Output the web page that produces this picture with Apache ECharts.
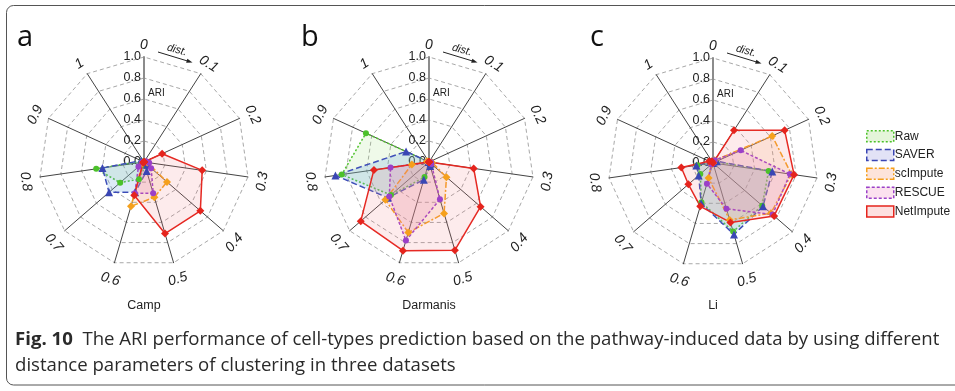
<!DOCTYPE html>
<html><head><meta charset="utf-8">
<script src="https://cdn.jsdelivr.net/npm/echarts@6/dist/echarts.min.js"></script>
<style>html,body{margin:0;padding:0;background:#fff}#c{width:955px;height:391px}</style>
</head><body><div id="c"></div>
<script>
// ---- data ----
const distLabels = ['0','0.1','0.2','0.3','0.4','0.5','0.6','0.7','0.8','0.9','1'];
const methods = ['Raw','SAVER','scImpute','RESCUE','NetImpute'];
const datasets = ['Camp','Darmanis','Li'];
const panelLetters = ['a','b','c'];

// ARI values for dist = 0, 0.1, ..., 1
const campRaw       = [0, 0, 0, 0, 0.02, 0.04, 0.17, 0.30, 0.46, 0.02, 0];
const campSAVER     = [0, 0, 0, 0.02, 0.04, 0.09, 0.30, 0.44, 0.40, 0.03, 0];
const campScImpute  = [0, 0, 0, 0.03, 0.29, 0.35, 0.44, 0.02, 0, 0, 0];
const campRESCUE    = [0, 0, 0.02, 0.05, 0.09, 0.31, 0.31, 0.07, 0.02, 0, 0];
const campNetImpute = [0, 0, 0.19, 0.56, 0.71, 0.71, 0.33, 0.01, 0, 0, 0];

const darRaw       = [0, 0, 0, 0, 0.02, 0.05, 0.15, 0.48, 0.84, 0.66, 0];
const darSAVER     = [0, 0, 0, 0, 0.02, 0.04, 0.175, 0.52, 0.90, 0.24, 0];
const darScImpute  = [0, 0, 0, 0.03, 0.22, 0.51, 0.70, 0.55, 0.165, 0.02, 0];
const darRESCUE    = [0, 0, 0, 0.02, 0.03, 0.37, 0.78, 0.50, 0.37, 0, 0];
const darNetImpute = [0, 0, 0, 0.43, 0.65, 0.875, 0.88, 0.86, 0.53, 0, 0];

const liRaw       = [0, 0.01, 0.03, 0.535, 0.62, 0.68, 0.39, 0.16, 0.15, 0.02, 0];
const liSAVER     = [0, 0.02, 0.04, 0.57, 0.63, 0.71, 0.40, 0.18, 0.16, 0.03, 0.01];
const liScImpute  = [0, 0.03, 0.62, 0.755, 0.73, 0.565, 0.15, 0.02, 0, 0, 0];
const liRESCUE    = [0, 0.03, 0.29, 0.74, 0.75, 0.455, 0.205, 0.02, 0, 0, 0];
const liNetImpute = [0, 0.37, 0.75, 0.78, 0.77, 0.59, 0.43, 0.31, 0.305, 0.04, 0.02];

const tables = [
  [campRaw, campSAVER, campScImpute, campRESCUE, campNetImpute],
  [darRaw, darSAVER, darScImpute, darRESCUE, darNetImpute],
  [liRaw, liSAVER, liScImpute, liRESCUE, liNetImpute]
];

// ---- styles ----
const styles = {
  Raw:       {line:'#4cc12a', type:[2,2],       symbol:'circle',   size:6, area:'rgba(150,220,110,0.22)', legendFill:'#e4f5d9'},
  SAVER:     {line:'#3a46b4', type:[6,3],       symbol:'triangle', size:8, area:'rgba(110,165,225,0.33)', legendFill:'#e2e2f6'},
  scImpute:  {line:'#f5a01c', type:[6,2,2,2],   symbol:'diamond',  size:8, area:'rgba(250,175,100,0.22)', legendFill:'#fde4da'},
  RESCUE:    {line:'#9b40c8', type:[3,2],       symbol:'circle',   size:6, area:'rgba(225,120,215,0.22)', legendFill:'#fbe2ef'},
  NetImpute: {line:'#e5241d', type:'solid',     symbol:'diamond',  size:8, area:'rgba(240,110,120,0.2)',  legendFill:'#fde0e0'}
};

const centers = [[144,162],[429,162],[713,163]];
const R = 105;
// radar indicators run counter-clockwise; reorder so dist runs clockwise
const order = [0,10,9,8,7,6,5,4,3,2,1];

const radars = centers.map(c => ({
  center: c, radius: R, startAngle: 90, splitNumber: 5, shape: 'polygon',
  indicator: order.map((k, j) => {
    const ind = {name: distLabels[k], min: 0, max: 1};
    if (j === 0) {
      ind.axisLabel = {show: true, color: '#222', fontSize: 12.5, fontFamily: 'Liberation Sans, Arial',
                       margin: 3, showMinLabel: true, formatter: v => v.toFixed(1)};
      ind.axisLine = {lineStyle: {color: '#8c8c8c', width: 2}};
    }
    return ind;
  }),
  axisName: {show: false},
  axisLine: {lineStyle: {color: '#444', width: 1}},
  splitLine: {lineStyle: {color: '#a8a8a8', type: [4,3], width: 1}},
  splitArea: {show: false},
  axisTick: {show: false},
  axisLabel: {show: false}
}));

const series = [];
tables.forEach((tbl, ri) => {
  methods.forEach((m, mi) => {
    const s = styles[m];
    series.push({
      type: 'radar', name: m, radarIndex: ri, silent: true,
      symbol: s.symbol, symbolSize: s.size,
      itemStyle: {color: s.line},
      lineStyle: {color: s.line, type: s.type, width: 1.5},
      areaStyle: {color: s.area},
      data: [{value: order.map(k => tbl[mi][k]), name: m}]
    });
  });
});

// ---- annotations ----
const graphics = [];
const fontBase = 'Liberation Sans, Arial, sans-serif';
centers.forEach((c, ri) => {
  const [cx, cy] = c;
  distLabels.forEach((lab, k) => {
    const th = k * 360 / 11;
    const rad = th * Math.PI / 180;
    const rr = 119.5;
    let phi = th;
    if (phi > 90 && phi <= 270) phi -= 180; else if (phi > 270) phi -= 360;
    graphics.push({type: 'text', x: cx + rr * Math.sin(rad), y: cy + 2.5 - rr * Math.cos(rad),
      rotation: -phi * Math.PI / 180,
      style: {text: lab, font: 'italic 14px ' + fontBase, fill: '#222', align: 'center', verticalAlign: 'middle'}});
  });
  graphics.push({type: 'text', x: cx + 4, y: cy - 69,
    style: {text: 'ARI', font: '10px ' + fontBase, fill: '#222', align: 'left', verticalAlign: 'middle'}});
  graphics.push({type: 'text', x: cx + 33, y: cy - 112, rotation: -15 * Math.PI / 180,
    style: {text: 'dist.', font: 'italic 11px ' + fontBase, fill: '#222', align: 'center', verticalAlign: 'middle'}});
  const x1 = cx + 14, y1 = cy - 110, x2 = cx + 48.5, y2 = cy - 99.5;
  graphics.push({type: 'line', shape: {x1, y1, x2: x2 - 3, y2: y2 - 0.9}, style: {stroke: '#222', lineWidth: 1}});
  const ang = Math.atan2(y2 - y1, x2 - x1);
  const hl = 6, hw = 2.2;
  const bx = x2 - hl * Math.cos(ang), by = y2 - hl * Math.sin(ang);
  graphics.push({type: 'polygon', shape: {points: [[x2, y2],
    [bx - hw * Math.sin(ang), by + hw * Math.cos(ang)],
    [bx + hw * Math.sin(ang), by - hw * Math.cos(ang)]]}, style: {fill: '#222'}});
  graphics.push({type: 'text', x: [17, 301, 590][ri], y: 23,
    style: {text: panelLetters[ri], font: '29px Open Sans, Liberation Sans, sans-serif', fill: '#111'}});
  graphics.push({type: 'text', x: cx, y: 306,
    style: {text: datasets[ri], font: '12.5px ' + fontBase, fill: '#222', align: 'center', verticalAlign: 'middle'}});
});
graphics.push({type: 'rect', shape: {x: 6.5, y: 5.5, width: 970, height: 379.5, r: 7},
  style: {fill: 'none', stroke: '#555', lineWidth: 1}});
const capFont = '18.6px "Open Sans", sans-serif';
graphics.push({type: 'text', x: 15, y: 340,
  style: {text: '{b|Fig. 10}  The ARI performance of cell-types prediction based on the pathway-induced data by using different',
    font: capFont, fill: '#2a2a2a', verticalAlign: 'middle',
    rich: {b: {font: 'bold ' + capFont, fill: '#2a2a2a'}}}});
graphics.push({type: 'text', x: 15, y: 366,
  style: {text: 'distance parameters of clustering in three datasets',
    font: capFont, fill: '#2a2a2a', verticalAlign: 'middle'}});

const chart = echarts.init(document.getElementById('c'), null, {renderer: 'canvas'});
chart.setOption({
  animation: false,
  backgroundColor: '#fff',
  legend: {
    orient: 'vertical', left: 866, top: 130, padding: 0, itemWidth: 27, itemHeight: 11, itemGap: 6.3,
    textStyle: {fontSize: 12, color: '#222', fontFamily: fontBase, padding: [0,0,0,-4]},
    selectedMode: false,
    data: methods.map(m => ({name: m, icon: 'rect',
      itemStyle: {color: styles[m].legendFill, borderColor: styles[m].line, borderWidth: 1.5,
                  borderType: styles[m].type}}))
  },
  radar: radars,
  series: series,
  graphic: graphics
});
</script></body></html>
